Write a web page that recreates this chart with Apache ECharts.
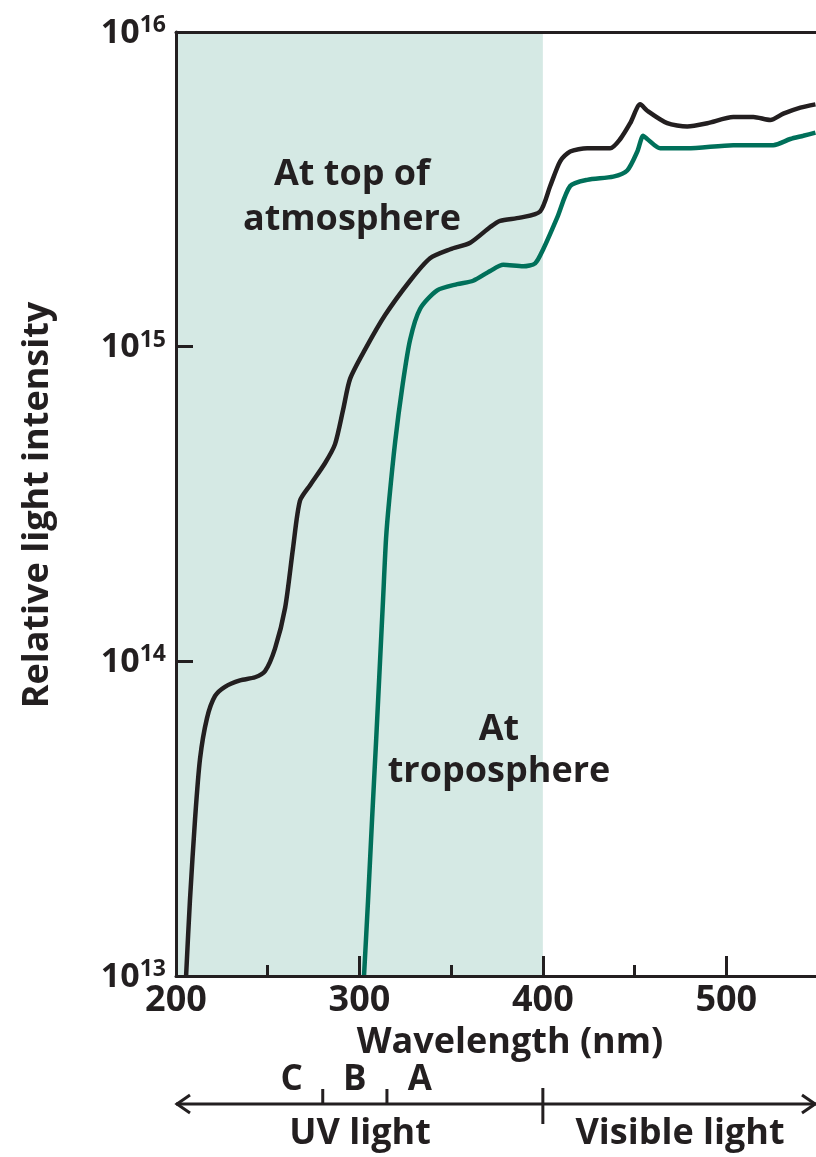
<!DOCTYPE html>
<html><head><meta charset="utf-8">
<script src="https://cdn.jsdelivr.net/npm/echarts@6/dist/echarts.min.js"></script>
<style>html,body{margin:0;padding:0;background:#fff}#c{width:816px;height:1157px}</style>
</head><body><div id="c"></div>
<script>
// Wavelength (nm) and relative light intensity
const topWavelength = [205.5,207.6,210.4,213.1,216.9,221.3,226.7,234.9,243.1,248.5,254.0,259.5,263.8,267.6,273.1,281.3,286.7,291.1,294.9,303.1,314.0,327.6,338.5,349.5,360.4,371.3,376.7,387.6,398.5,404.0,409.5,414.9,424.2,436.7,442.2,447.6,453.1,456.9,467.8,478.7,489.7,503.8,514.8,524.0,531.1,540.4,548.6];
const topIntensity = [1.0e13,1.74e13,3.16e13,4.9e13,6.6e13,7.76e13,8.3e13,8.7e13,8.9e13,9.3e13,1.10e14,1.48e14,2.29e14,3.24e14,3.63e14,4.27e14,4.9e14,6.3e14,7.9e14,9.8e14,1.26e15,1.62e15,1.91e15,2.04e15,2.14e15,2.40e15,2.51e15,2.57e15,2.69e15,3.24e15,3.89e15,4.17e15,4.27e15,4.27e15,4.57e15,5.13e15,5.89e15,5.62e15,5.13e15,5.01e15,5.13e15,5.37e15,5.37e15,5.25e15,5.50e15,5.75e15,5.89e15];
const tropoWavelength = [302.5,304.7,306.9,309.1,311.3,312.9,314.5,316.2,319.5,323.3,327.6,333.1,342.4,353.3,362.0,371.3,378.4,389.3,395.8,400.2,407.8,414.9,424.2,438.4,446.0,451.5,454.7,456.9,464.0,478.7,503.8,525.6,534.9,542.0,548.6];
const tropoIntensity = [1.0e13,1.74e13,3.16e13,5.6e13,1.02e14,1.58e14,2.45e14,3.24e14,5.0e14,7.4e14,1.05e15,1.32e15,1.51e15,1.58e15,1.62e15,1.74e15,1.82e15,1.80e15,1.84e15,2.04e15,2.57e15,3.24e15,3.39e15,3.47e15,3.63e15,4.17e15,4.68e15,4.57e15,4.27e15,4.27e15,4.37e15,4.37e15,4.57e15,4.68e15,4.79e15];
const xTickLabels = [200,300,400,500];
const uvBands = ['C','B','A'];
const uvBoundaries = [280,315,400];   // C|B, B|A, UV|Visible
const shadedRange = [200,400];

const INK = '#231f20', GREEN = '#00705a', SHADE = '#d5e9e4';
const FONT = '"Open Sans", sans-serif';

const chart = echarts.init(document.getElementById('c'), null, {renderer:'canvas'});
const pair = (xs, ys) => xs.map((x,i)=>[x, ys[i]]);

const option = {
  animation:false,
  grid:{left:176, top:32, width:642, height:944, outerBoundsMode:'none', containLabel:false},
  xAxis:[
    {type:'value', min:200, max:550, interval:100, position:'bottom', z:10,
     axisLine:{show:true, lineStyle:{color:INK, width:3}},
     axisTick:{show:true, inside:true, length:20, lineStyle:{color:INK, width:3}},
     axisLabel:{color:INK, fontFamily:FONT, fontWeight:'bold', fontSize:36, margin:7,
       formatter:v => xTickLabels.includes(v) ? String(v) : ''},
     splitLine:{show:false}},
    {type:'value', min:200, max:550, interval:50, position:'bottom', z:10,
     axisLine:{show:false},
     axisTick:{show:true, inside:true, length:11, lineStyle:{color:INK, width:3}},
     axisLabel:{show:false}, splitLine:{show:false}},
    {type:'value', min:200, max:550, position:'top', z:10,
     axisLine:{show:true, lineStyle:{color:INK, width:3}},
     axisTick:{show:false}, axisLabel:{show:false}, splitLine:{show:false}}
  ],
  yAxis:{type:'log', logBase:10, min:1e13, max:1e16, z:10,
    axisLine:{show:true, lineStyle:{color:INK, width:3}},
    axisTick:{show:true, inside:true, length:17, lineStyle:{color:INK, width:3}},
    splitLine:{show:false},
    axisLabel:{margin:10, formatter:v => '{b|10}{s|' + Math.round(Math.log10(v)) + '}',
      rich:{
        b:{color:INK, fontFamily:FONT, fontWeight:'bold', fontSize:34, lineHeight:36, verticalAlign:'bottom'},
        s:{color:INK, fontFamily:FONT, fontWeight:'bold', fontSize:23, lineHeight:24, verticalAlign:'top'}
      }}
  },
  series:[
    {type:'line', name:'At troposphere', data:pair(tropoWavelength, tropoIntensity), showSymbol:false, smooth:0.25,
     lineStyle:{color:GREEN, width:4.5}, z:3,
     markArea:{silent:true, z:1, itemStyle:{color:SHADE}, data:[[{xAxis:shadedRange[0]},{xAxis:shadedRange[1]}]]}},
    {type:'line', name:'At top of atmosphere', data:pair(topWavelength, topIntensity), showSymbol:false, smooth:0.25,
     lineStyle:{color:INK, width:4.5}, z:4}
  ]
};
chart.setOption(option);

const px = x => chart.convertToPixel({xAxisIndex:0}, x);
const txt = (text, x, y, size) => ({type:'text', x, y, z:100, style:{text, fill:INK,
  font:'bold ' + size + 'px ' + FONT, textAlign:'center', textVerticalAlign:'middle'}});
const line = (pts, w) => ({type:'polyline', z:100, shape:{points:pts}, style:{stroke:INK, lineWidth:w||3, fill:null}});

const yArrow = 1104;
const xl = px(200), xr = 816;
const g = [
  txt('At top of', 352, 175, 36),
  txt('atmosphere', 352, 220, 36),
  txt('At', 499, 730, 36),
  txt('troposphere', 499, 772, 36),
  txt('Wavelength (nm)', 510, 1043, 36),
  {type:'text', x:38, y:505, z:100, rotation:Math.PI/2, style:{text:'Relative light intensity', fill:INK,
    font:'bold 36px ' + FONT, textAlign:'center', textVerticalAlign:'middle'}},
  line([[xl, yArrow],[xr, yArrow]]),
  line([[xl+14, yArrow-9],[xl+1, yArrow],[xl+14, yArrow+9]]),
  line([[xr-14, yArrow-9],[xr-1, yArrow],[xr-14, yArrow+9]]),
  line([[px(uvBoundaries[0]), yArrow-15],[px(uvBoundaries[0]), yArrow]]),
  line([[px(uvBoundaries[1]), yArrow-15],[px(uvBoundaries[1]), yArrow]]),
  line([[px(uvBoundaries[2]), yArrow-16],[px(uvBoundaries[2]), yArrow+20]]),
  txt(uvBands[0], px(uvBoundaries[0]) - 31, 1080, 35),
  txt(uvBands[1], (px(uvBoundaries[0]) + px(uvBoundaries[1]))/2, 1080, 35),
  txt(uvBands[2], px(uvBoundaries[1]) + 33, 1080, 35),
  txt('UV light', 360, 1134, 36),
  txt('Visible light', 680, 1134, 36)
];
chart.setOption({graphic:{elements:g}});
</script></body></html>
